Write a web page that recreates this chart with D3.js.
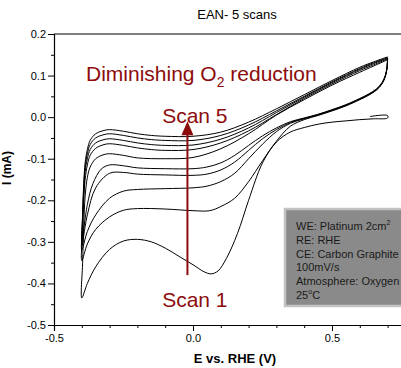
<!DOCTYPE html>
<html>
<head>
<meta charset="utf-8">
<script src="https://cdn.jsdelivr.net/npm/d3@7"></script>
<style>
  body { margin: 0; background: #fff; }
  svg { display: block; font-family: Arial, "Liberation Sans", sans-serif; }
</style>
</head>
<body>
<svg id="chart" width="401" height="368"></svg>
<script>
// Cyclic voltammograms of Pt in EAN under O2, five consecutive scans.
// Each scan: cathodic sweep 0.7 V -> -0.4 V, then anodic sweep back to 0.7 V.
// Points are [E (V vs RHE), I (mA)].

const cathodic1 = [[0.637,0.0015],[0.7,0.004],[0.7,-0.002],[0.65,-0.004],[0.6,-0.006],[0.55,-0.009],[0.5,-0.012],[0.45,-0.017],[0.4,-0.025],[0.35,-0.036],[0.3,-0.06],[0.25,-0.11],[0.2,-0.2],[0.16,-0.28],[0.12,-0.34],[0.09,-0.37],[0.065,-0.377],[0.04,-0.372],[0.0,-0.355],[-0.05,-0.335],[-0.1,-0.315],[-0.15,-0.3],[-0.2,-0.294],[-0.25,-0.298],[-0.3,-0.318],[-0.35,-0.36],[-0.38,-0.4],[-0.4,-0.435]];
const anodic1 = [[-0.4,-0.435],[-0.397,-0.35],[-0.393,-0.26],[-0.388,-0.19],[-0.38,-0.145],[-0.37,-0.12],[-0.35,-0.1],[-0.32,-0.09],[-0.3,-0.088],[-0.25,-0.092],[-0.2,-0.098],[-0.1,-0.1],[0.0,-0.097],[0.1,-0.076],[0.2,-0.04],[0.3,0.005],[0.4,0.042],[0.5,0.077],[0.6,0.108],[0.65,0.123],[0.7,0.138]];

const cathodic2 = [[0.7,0.138],[0.698,0.118],[0.692,0.098],[0.68,0.08],[0.66,0.065],[0.63,0.052],[0.6,0.042],[0.55,0.027],[0.5,0.015],[0.45,0.004],[0.4,-0.006],[0.35,-0.022],[0.3,-0.058],[0.25,-0.105],[0.2,-0.155],[0.15,-0.195],[0.1,-0.215],[0.06,-0.225],[0.0,-0.225],[-0.1,-0.221],[-0.2,-0.22],[-0.25,-0.224],[-0.3,-0.24],[-0.35,-0.27],[-0.38,-0.305],[-0.4,-0.345]];
const anodic2 = [[-0.4,-0.345],[-0.397,-0.27],[-0.393,-0.2],[-0.388,-0.15],[-0.38,-0.115],[-0.37,-0.092],[-0.35,-0.075],[-0.32,-0.066],[-0.3,-0.064],[-0.25,-0.068],[-0.2,-0.074],[-0.15,-0.078],[-0.1,-0.08],[0.0,-0.078],[0.1,-0.062],[0.2,-0.033],[0.3,0.006],[0.4,0.045],[0.5,0.08],[0.6,0.112],[0.65,0.126],[0.7,0.14]];

const cathodic3 = [[0.7,0.14],[0.698,0.119],[0.692,0.099],[0.68,0.081],[0.66,0.066],[0.63,0.053],[0.6,0.043],[0.55,0.028],[0.5,0.016],[0.45,0.005],[0.4,-0.004],[0.35,-0.015],[0.3,-0.035],[0.25,-0.065],[0.2,-0.1],[0.15,-0.135],[0.1,-0.155],[0.05,-0.166],[0.0,-0.17],[-0.1,-0.172],[-0.2,-0.174],[-0.25,-0.178],[-0.3,-0.195],[-0.35,-0.235],[-0.38,-0.275],[-0.4,-0.32]];
const anodic3 = [[-0.4,-0.32],[-0.397,-0.25],[-0.393,-0.18],[-0.388,-0.13],[-0.38,-0.1],[-0.37,-0.078],[-0.35,-0.062],[-0.32,-0.054],[-0.3,-0.052],[-0.25,-0.056],[-0.2,-0.062],[-0.15,-0.066],[-0.1,-0.068],[0.0,-0.067],[0.1,-0.053],[0.2,-0.026],[0.3,0.011],[0.4,0.048],[0.5,0.083],[0.6,0.115],[0.65,0.129],[0.7,0.142]];

const cathodic4 = [[0.7,0.142],[0.698,0.12],[0.692,0.1],[0.68,0.082],[0.66,0.067],[0.63,0.054],[0.6,0.044],[0.55,0.029],[0.5,0.017],[0.45,0.006],[0.4,-0.003],[0.35,-0.013],[0.3,-0.03],[0.25,-0.052],[0.2,-0.08],[0.15,-0.108],[0.1,-0.127],[0.05,-0.137],[0.0,-0.14],[-0.1,-0.139],[-0.2,-0.137],[-0.25,-0.133],[-0.3,-0.135],[-0.35,-0.17],[-0.38,-0.235],[-0.4,-0.31]];
const anodic4 = [[-0.4,-0.31],[-0.397,-0.24],[-0.393,-0.17],[-0.388,-0.12],[-0.38,-0.088],[-0.37,-0.066],[-0.35,-0.05],[-0.32,-0.042],[-0.3,-0.04],[-0.25,-0.044],[-0.2,-0.05],[-0.15,-0.054],[-0.1,-0.056],[0.0,-0.056],[0.1,-0.044],[0.2,-0.019],[0.3,0.015],[0.4,0.05],[0.5,0.085],[0.6,0.117],[0.65,0.131],[0.7,0.143]];

const cathodic5 = [[0.7,0.143],[0.698,0.121],[0.692,0.101],[0.68,0.083],[0.66,0.068],[0.63,0.055],[0.6,0.045],[0.55,0.03],[0.5,0.018],[0.45,0.007],[0.4,-0.002],[0.35,-0.011],[0.3,-0.026],[0.25,-0.045],[0.2,-0.068],[0.15,-0.092],[0.1,-0.11],[0.05,-0.12],[0.0,-0.124],[-0.1,-0.124],[-0.2,-0.122],[-0.25,-0.117],[-0.3,-0.115],[-0.33,-0.125],[-0.36,-0.16],[-0.38,-0.21],[-0.4,-0.3]];
const anodic5 = [[-0.4,-0.3],[-0.397,-0.23],[-0.393,-0.16],[-0.388,-0.11],[-0.38,-0.078],[-0.37,-0.056],[-0.35,-0.04],[-0.32,-0.032],[-0.3,-0.03],[-0.25,-0.034],[-0.2,-0.04],[-0.15,-0.044],[-0.1,-0.046],[0.0,-0.046],[0.1,-0.036],[0.2,-0.012],[0.3,0.02],[0.4,0.054],[0.5,0.088],[0.6,0.12],[0.65,0.133],[0.7,0.145]];

const scans = [
  cathodic1.concat(anodic1.slice(1)),
  cathodic2.concat(anodic2.slice(1)),
  cathodic3.concat(anodic3.slice(1)),
  cathodic4.concat(anodic4.slice(1)),
  cathodic5.concat(anodic5.slice(1))
];

const yMajorTicks = [0.2, 0.1, 0.0, -0.1, -0.2, -0.3, -0.4, -0.5];
const yMinorTicks = [0.15, 0.05, -0.05, -0.15, -0.25, -0.35, -0.45];
const xMajorTicks = [-0.5, 0.0, 0.5];
const xMinorTicks = [-0.4, -0.3, -0.2, -0.1, 0.1, 0.2, 0.3, 0.4, 0.6, 0.7];

const titleText = "EAN- 5 scans";
const xLabel = "E vs. RHE (V)";
const yLabel = "I (mA)";
const conditions = ["WE: Platinum 2cm", "RE: RHE", "CE: Carbon Graphite", "100mV/s", "Atmosphere: Oxygen", "25"];

const svg = d3.select("#chart");
const W = 401, H = 368;
const red = "#8c0c0c";

const x = d3.scaleLinear().domain([-0.5, 0.8]).range([54, 415.4]);
const y = d3.scaleLinear().domain([-0.5, 0.2]).range([325, 34]);

const fmt = d => d.toFixed(1);

// frame (top edge of the box)
svg.append("line")
  .attr("x1", x(-0.5)).attr("x2", W)
  .attr("y1", y(0.2)).attr("y2", y(0.2))
  .attr("stroke", "#000").attr("stroke-width", 1.2);

// y axis
svg.append("g").attr("transform", `translate(${x(-0.5)},0)`)
  .call(d3.axisLeft(y).tickValues(yMajorTicks).tickSize(6).tickPadding(2).tickFormat(fmt));
svg.append("g").attr("transform", `translate(${x(-0.5)},0)`)
  .call(d3.axisLeft(y).tickValues(yMinorTicks).tickSize(3).tickFormat(""))
  .call(g => g.select(".domain").remove());

// x axis
svg.append("g").attr("transform", `translate(0,${y(-0.5)})`)
  .call(d3.axisBottom(x).tickValues(xMajorTicks).tickSize(6).tickPadding(3).tickFormat(fmt));
svg.append("g").attr("transform", `translate(0,${y(-0.5)})`)
  .call(d3.axisBottom(x).tickValues(xMinorTicks).tickSize(3).tickFormat(""))
  .call(g => g.select(".domain").remove());

svg.selectAll(".domain").attr("stroke-width", 1.2).attr("stroke", "#000");
svg.selectAll(".tick line").attr("stroke", "#000").attr("stroke-width", 1);
svg.selectAll(".tick text").attr("font-size", 11).attr("fill", "#000")
  .attr("font-family", "Arial, 'Liberation Sans', sans-serif");

// title and axis labels
svg.append("text").attr("x", 237).attr("y", 19).attr("text-anchor", "middle")
  .attr("font-size", 13).text(titleText);
svg.append("text").attr("x", 235).attr("y", 363).attr("text-anchor", "middle")
  .attr("font-size", 13).attr("font-weight", "bold").text(xLabel);
svg.append("text").attr("transform", "translate(10.5,168) rotate(-90)").attr("text-anchor", "middle")
  .attr("font-size", 12).attr("font-weight", "bold").text(yLabel);

// voltammograms
const line = d3.line().x(d => x(d[0])).y(d => y(d[1])).curve(d3.curveCatmullRom.alpha(0.5));
svg.append("g").selectAll("path").data(scans).join("path")
  .attr("d", line)
  .attr("fill", "none").attr("stroke", "#000").attr("stroke-width", 1);

// annotation: arrow from scan 1 to scan 5
const arrowE = -0.02, arrowFrom = -0.38, arrowTo = -0.01;
svg.append("line")
  .attr("x1", x(arrowE)).attr("x2", x(arrowE))
  .attr("y1", y(arrowFrom)).attr("y2", y(arrowTo) + 12)
  .attr("stroke", red).attr("stroke-width", 2);
svg.append("path")
  .attr("d", `M${x(arrowE)},${y(arrowTo)} L${x(arrowE) - 6},${y(arrowTo) + 14} L${x(arrowE) + 6},${y(arrowTo) + 14} Z`)
  .attr("fill", red);

const dim = svg.append("text").attr("x", x(-0.385)).attr("y", y(0.087))
  .attr("font-size", 21).attr("fill", red);
dim.append("tspan").text("Diminishing O");
dim.append("tspan").attr("font-size", 14).attr("dy", 6).text("2");
dim.append("tspan").attr("dy", -6).text(" reduction");

svg.append("text").attr("x", x(-0.111)).attr("y", y(-0.013))
  .attr("font-size", 21).attr("fill", red).text("Scan 5");
svg.append("text").attr("x", x(-0.111)).attr("y", y(-0.457))
  .attr("font-size", 21).attr("fill", red).text("Scan 1");

// experimental conditions box
const box = svg.append("g");
box.append("rect").attr("x", 285).attr("y", 209).attr("width", 130).attr("height", 97)
  .attr("fill", "#8a8a8a").attr("stroke", "#c2c2c2").attr("stroke-width", 2.5);
conditions.forEach((t, i) => {
  const tx = box.append("text").attr("x", 296).attr("y", 230 + i * 13.8)
    .attr("font-size", 11).attr("fill", "#1a1a1a");
  tx.append("tspan").text(t);
  if (i === 0) tx.append("tspan").attr("font-size", 7).attr("dy", -5).text("2");
  if (i === 5) {
    tx.append("tspan").attr("font-size", 7).attr("dy", -5).text("o");
    tx.append("tspan").attr("dy", 5).text("C");
  }
});
</script>
</body>
</html>
